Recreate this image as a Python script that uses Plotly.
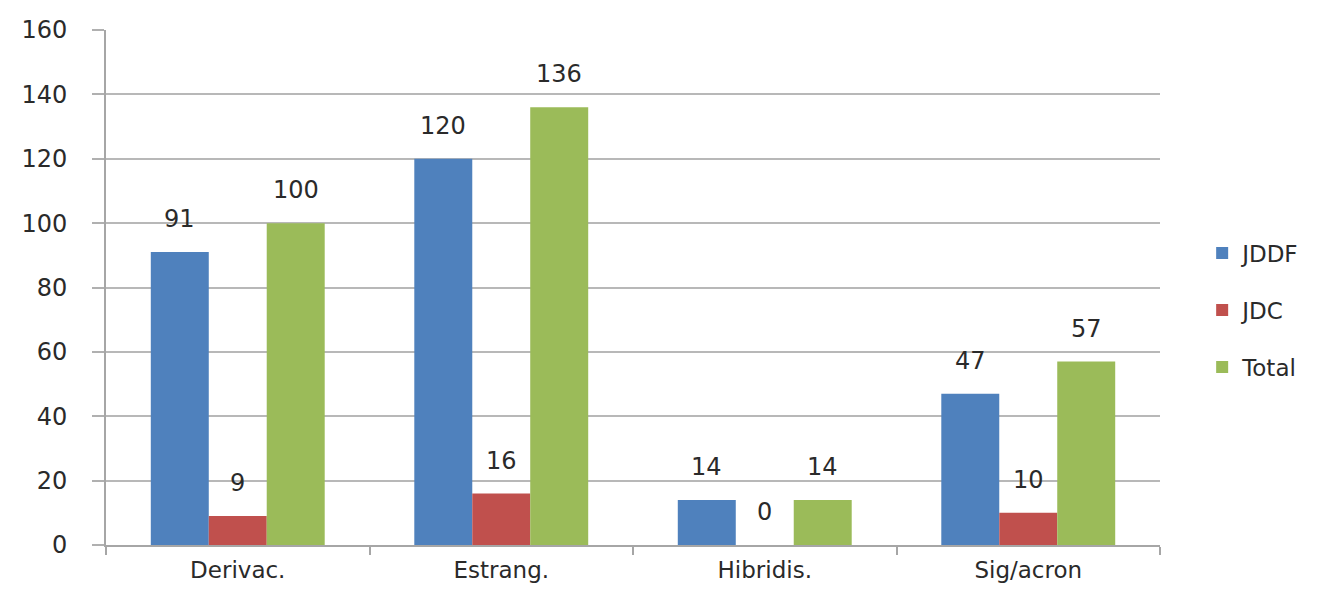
import plotly.graph_objects as go

categories = ["Derivac.", "Estrang.", "Hibridis.", "Sig/acron"]
jddf = [91, 120, 14, 47]
jdc = [9, 16, 0, 10]
total = [100, 136, 14, 57]
series_names = ["JDDF", "JDC", "Total"]
series_colors = ["#4F81BD", "#C0504D", "#9BBB59"]
y_ticks = [0, 20, 40, 60, 80, 100, 120, 140, 160]

W, H = 1338, 591
ML, MR, MT, MB = 106, 178, 30, 46
BARGAP = 0.34

fig = go.Figure()
all_series = [jddf, jdc, total]
for name, vals, col in zip(series_names, all_series, series_colors):
    fig.add_trace(go.Bar(
        x=categories, y=vals, name=name, marker_color=col,
        marker_line_width=0, legendgroup=name,
    ))

plot_w = W - ML - MR
cat_w = plot_w / len(categories)
bar_w = cat_w * (1 - BARGAP) / len(all_series)
font = "DejaVu Sans"
txt_col = "#2a2a2a"
for i, vals in enumerate(all_series):
    for c, v in zip(categories, vals):
        fig.add_annotation(
            x=c, y=v, xref="x", yref="y", text=str(v), showarrow=False,
            xshift=(i - 1) * bar_w, yshift=33,
            font=dict(family=font, size=24, color=txt_col),
        )

fig.update_layout(
    width=W, height=H,
    margin=dict(l=ML, r=MR, t=MT, b=MB, autoexpand=False),
    paper_bgcolor="white", plot_bgcolor="white",
    barmode="group", bargap=BARGAP, bargroupgap=0,
    font=dict(family=font, size=24, color=txt_col),
    legend=dict(x=1.04, xanchor="left", y=0.456, yanchor="middle",
                font=dict(size=23), tracegroupgap=24, itemwidth=30),
    showlegend=True,
)
fig.update_xaxes(
    type="category", tickson="boundaries", ticks="outside", ticklen=8,
    tickcolor="#a6a6a6", tickwidth=2, showline=True, linecolor="#a6a6a6",
    linewidth=2, showgrid=False, ticklabelstandoff=3, automargin=False,
    tickfont=dict(size=23, color=txt_col),
)
fig.update_yaxes(
    range=[0, 160], tickvals=y_ticks, ticks="outside", ticklen=12,
    tickcolor="#b0b0b0", tickwidth=2, showline=True, linecolor="#a6a6a6",
    linewidth=2, showgrid=True, gridcolor="#b8b8b8", gridwidth=2,
    zeroline=False, ticklabelstandoff=20, automargin=False,
    tickfont=dict(size=24, color=txt_col),
)

fig.write_html("out.html")
